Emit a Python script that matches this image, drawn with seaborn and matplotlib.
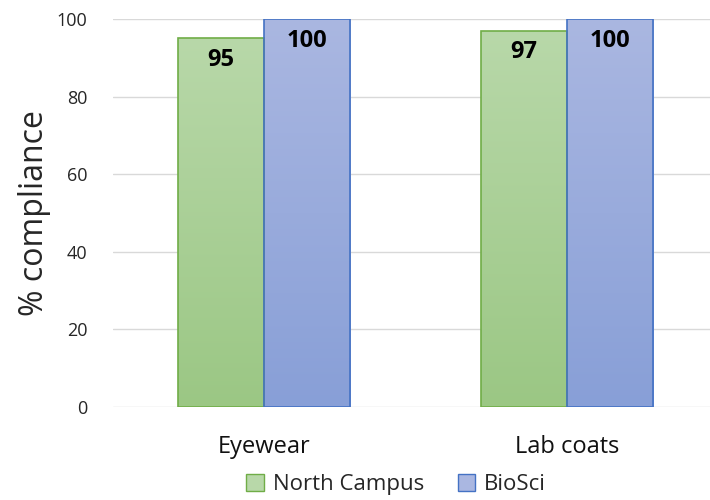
import numpy as np
import pandas as pd
import matplotlib
matplotlib.use("Agg")
import matplotlib.pyplot as plt
from matplotlib.colors import LinearSegmentedColormap
from matplotlib.patches import Patch
import seaborn as sns

categories = ["Eyewear", "Lab coats"]
groups = ["North Campus", "BioSci"]
north_campus = [95, 97]
bioSci = [100, 100]

# top/bottom gradient colours and edge colour per group
FILLS = {
    "North Campus": ("#b8d8a9", "#9bc784", "#70ad47"),
    "BioSci":       ("#aab7e1", "#889fd7", "#4472c4"),
}

df = pd.DataFrame({
    "category": categories * 2,
    "group": [groups[0]] * len(categories) + [groups[1]] * len(categories),
    "value": north_campus + bioSci,
})

sns.set_style("white")
plt.rcParams["font.family"] = ["Open Sans", "DejaVu Sans"]

fig = plt.figure(figsize=(7.1, 5), dpi=100)
ax = fig.add_axes([112.5 / 710, 93 / 500, 606 / 710, 388 / 500])

sns.barplot(data=df, x="category", y="value", hue="group", hue_order=groups,
            palette=[FILLS[g][1] for g in groups], width=0.57, ax=ax,
            legend=False, zorder=3)

ax.set_ylim(0, 100)
ax.set_xlim(-0.5, 1.5)
ax.set_yticks(range(0, 101, 20))
ax.yaxis.grid(True, color="#d9d9d9", linewidth=1, zorder=0)
ax.set_axisbelow(True)
for s in ax.spines.values():
    s.set_visible(False)
ax.tick_params(axis="y", length=0, labelsize=13, pad=18, colors="#262626")
ax.tick_params(axis="x", length=0, labelsize=17, pad=20, colors="#111111")
ax.set_xlabel("")
ax.set_ylabel("% compliance", fontsize=23, labelpad=4)

# gradient fill + label for each bar
for container, g in zip(ax.containers, groups):
    top, bot, edge = FILLS[g]
    cmap = LinearSegmentedColormap.from_list(g, [bot, top])
    for bar in container:
        x0, w, h = bar.get_x(), bar.get_width(), bar.get_height()
        bar.set_facecolor("none")
        bar.set_edgecolor(edge)
        bar.set_linewidth(1.2)
        bar.set_zorder(4)
        grad = np.linspace(0, 1, 256).reshape(-1, 1)
        im = ax.imshow(grad, cmap=cmap, origin="lower", aspect="auto",
                       extent=[x0, x0 + w, 0, h], zorder=3)
        im.set_clip_path(bar)
        ax.text(x0 + w / 2, h - 2.5, f"{h:.0f}", ha="center", va="top",
                fontsize=17, fontweight="bold", color="black", zorder=5)

ax.set_xlim(-0.5, 1.5)
ax.set_ylim(0, 100)

handles = [Patch(facecolor=FILLS[g][0], edgecolor=FILLS[g][2], label=g)
           for g in groups]
fig.legend(handles=handles, loc="lower center", ncol=2, frameon=False,
           bbox_to_anchor=(0.558, -0.03), fontsize=16, handlelength=0.8,
           handleheight=0.8, handletextpad=0.4, columnspacing=1.5)

fig.savefig("out.png", dpi=100)
